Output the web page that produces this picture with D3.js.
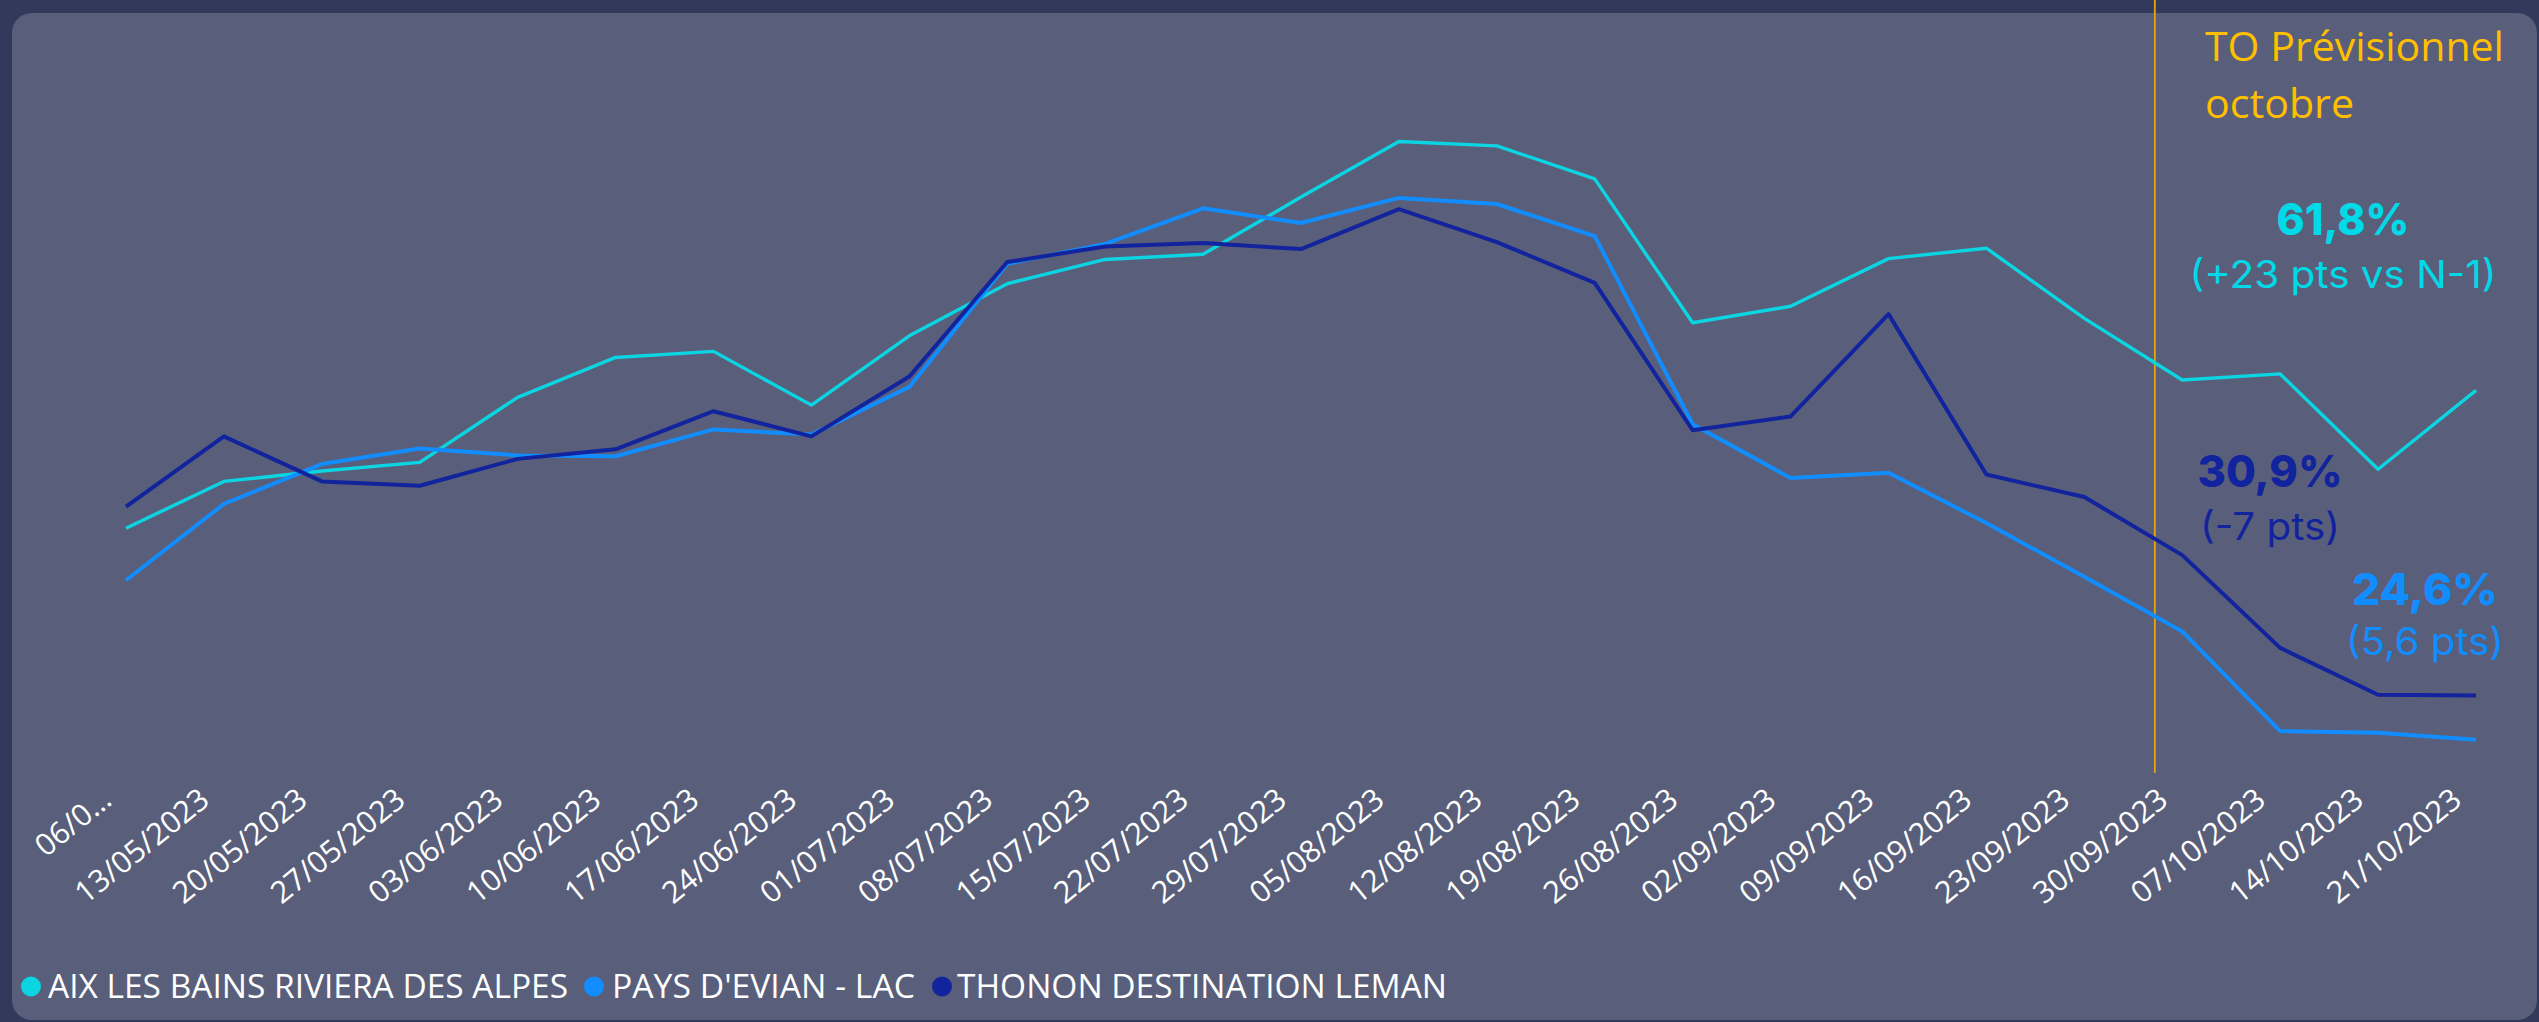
<!DOCTYPE html>
<html>
<head>
<meta charset="utf-8">
<script src="https://cdn.jsdelivr.net/npm/d3@7"></script>
<style>
  html, body { margin: 0; padding: 0; background: #323a5c; }
  svg { display: block; }
</style>
</head>
<body>
<svg id="chart" width="2539" height="1022"></svg>
<script>
// ---------- DATA ----------
const weeks = ["06/05/2023","13/05/2023","20/05/2023","27/05/2023","03/06/2023","10/06/2023","17/06/2023","24/06/2023",
  "01/07/2023","08/07/2023","15/07/2023","22/07/2023","29/07/2023","05/08/2023","12/08/2023","19/08/2023",
  "26/08/2023","02/09/2023","09/09/2023","16/09/2023","23/09/2023","30/09/2023","07/10/2023","14/10/2023","21/10/2023"];
const tickLabels = ["06/0…","13/05/2023","20/05/2023","27/05/2023","03/06/2023","10/06/2023","17/06/2023","24/06/2023",
  "01/07/2023","08/07/2023","15/07/2023","22/07/2023","29/07/2023","05/08/2023","12/08/2023","19/08/2023",
  "26/08/2023","02/09/2023","09/09/2023","16/09/2023","23/09/2023","30/09/2023","07/10/2023","14/10/2023","21/10/2023"];
const seriesNames = ["AIX LES BAINS RIVIERA DES ALPES", "PAYS D'EVIAN - LAC", "THONON DESTINATION LEMAN"];
const aixValues    = [48.3,53.7,54.9,55.9,63.4,68.0,68.7,62.5,70.5,76.5,79.3,79.9,86.5,92.9,92.4,88.6,72.0,73.9,79.4,80.6,72.5,65.4,66.1,55.1,64.2];
const evianValues  = [42.3,51.1,55.7,57.5,56.7,56.6,59.7,59.1,64.6,78.8,81.1,85.2,83.5,86.4,85.7,82.0,60.3,54.1,54.7,48.9,42.7,36.4,24.9,24.7,23.9];
const thononValues = [50.8,58.9,53.7,53.2,56.3,57.4,61.8,58.9,65.8,79.0,80.8,81.2,80.5,85.1,81.3,76.6,59.6,61.2,73.0,54.5,51.9,45.2,34.5,29.1,29.0];
const forecastTitle = ["TO Prévisionnel", "octobre"];
// forecast order: AIX, THONON, EVIAN
const forecastValues = ["61,8%", "30,9%", "24,6%"];
const forecastDeltas = ["(+23 pts vs N-1)", "(-7 pts)", "(5,6 pts)"];
const forecastStart = "30/09/2023";

// ---------- STYLES ----------
const colors = ["#0bd5e3", "#118dff", "#12239e"];
const widths = [3.4, 4, 4];
const annColors = ["#00d9e8", "#12239e", "#118dff"];

const svg = d3.select("#chart");

// card
svg.append("rect").attr("x", 0).attr("y", 0).attr("width", 2539).attr("height", 1022).attr("fill", "#323a5c");
svg.append("rect").attr("x", 12).attr("y", 13).attr("width", 2525).attr("height", 1007)
  .attr("rx", 20).attr("ry", 20).attr("fill", "#595f7a");

// scales
const x = d3.scalePoint().domain(weeks).range([126, 2476]);
const y = d3.scaleLinear().domain([0, 100]).range([947, 80]);

// forecast separator line
const sepX = x(forecastStart) - 0.28 * x.step();
svg.append("line").attr("x1", sepX).attr("x2", sepX).attr("y1", 0).attr("y2", 773)
  .attr("stroke", "#e3a514").attr("stroke-width", 1.8);

// x axis
const axis = svg.append("g").attr("transform", "translate(0,803)")
  .call(d3.axisBottom(x).tickSize(0).tickFormat((d, i) => tickLabels[i]));
axis.select(".domain").remove();
axis.selectAll("text")
  .attr("x", 0).attr("y", 0).attr("dy", 0)
  .attr("text-anchor", "end")
  .attr("transform", "translate(-13,0) rotate(-39)")
  .attr("fill", "#ffffff")
  .style("font-family", "'Open Sans', 'Segoe UI', sans-serif")
  .style("font-weight", 500)
  .style("font-size", "30.5px");

// lines
const allSeries = [aixValues, evianValues, thononValues];
const line = d3.line().x((d, i) => x(weeks[i])).y(d => y(d));
allSeries.forEach((vals, k) => {
  svg.append("path").datum(vals)
    .attr("d", line)
    .attr("fill", "none")
    .attr("stroke", colors[k])
    .attr("stroke-width", widths[k])
    .attr("stroke-linejoin", "round");
});

// forecast annotations
const titleG = svg.append("g").style("font-family", "'Open Sans', 'Segoe UI', sans-serif").attr("fill", "#ffbf00");
titleG.append("text").attr("x", 2205).attr("y", 61).style("font-size", "41px")
  .attr("textLength", 299).attr("lengthAdjust", "spacingAndGlyphs").text(forecastTitle[0]);
titleG.append("text").attr("x", 2205).attr("y", 118).style("font-size", "41px")
  .attr("textLength", 149).attr("lengthAdjust", "spacingAndGlyphs").text(forecastTitle[1]);

const annPos = [
  {cx: 2343, y1: 235, y2: 288, w1: 133, w2: 307},
  {cx: 2270, y1: 487, y2: 540, w1: 145, w2: 140},
  {cx: 2425, y1: 605, y2: 655, w1: 146, w2: 158}
];
annPos.forEach((p, k) => {
  svg.append("text").attr("x", p.cx).attr("y", p.y1).attr("text-anchor", "middle")
    .attr("fill", annColors[k])
    .style("font-family", "Inter, 'Open Sans', sans-serif").style("font-weight", 800).style("font-size", "44px")
    .attr("textLength", p.w1).attr("lengthAdjust", "spacingAndGlyphs")
    .text(forecastValues[k]);
  svg.append("text").attr("x", p.cx).attr("y", p.y2).attr("text-anchor", "middle")
    .attr("fill", annColors[k])
    .style("font-family", "Inter, 'Open Sans', sans-serif").style("font-weight", 400).style("font-size", "38px")
    .attr("textLength", p.w2).attr("lengthAdjust", "spacingAndGlyphs")
    .text(forecastDeltas[k]);
});

// legend
const legendItems = [
  {cx: 31, tx: 48, w: 520},
  {cx: 594, tx: 612, w: 303},
  {cx: 942, tx: 957, w: 490}
];
const legend = svg.append("g");
legendItems.forEach((it, k) => {
  legend.append("circle").attr("cx", it.cx).attr("cy", 986.5).attr("r", 10).attr("fill", colors[k]);
  legend.append("text").attr("x", it.tx).attr("y", 998).attr("fill", "#ffffff")
    .style("font-family", "'Open Sans', 'Segoe UI', sans-serif").style("font-size", "32px")
    .attr("textLength", it.w).attr("lengthAdjust", "spacingAndGlyphs")
    .text(seriesNames[k]);
});
</script>
</body>
</html>
